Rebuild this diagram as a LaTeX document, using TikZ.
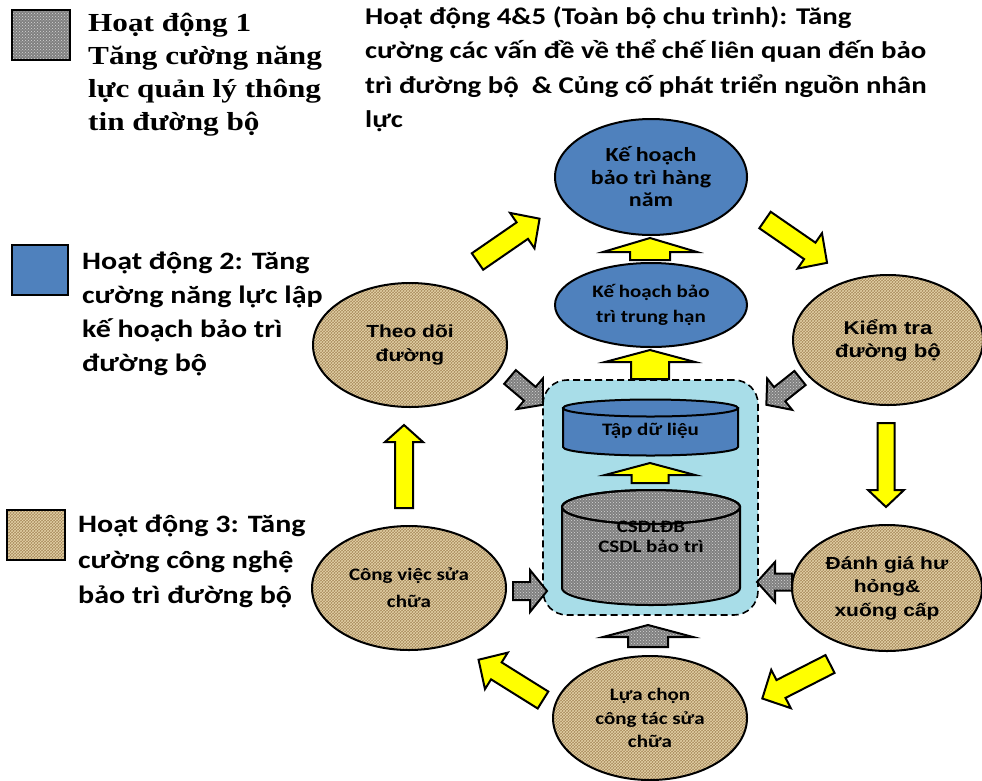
\documentclass[tikz,border=0pt]{standalone}
\usepackage{fontspec}
\newfontfamily\calibrif[FakeStretch=1.2]{Carlito}
\newfontfamily\arialf[FakeStretch=1.2]{Liberation Sans}
\newfontfamily\timesf[FakeStretch=1.2]{Liberation Serif}
\usetikzlibrary{shapes.geometric,patterns,positioning}

\definecolor{planblue}{RGB}{79,129,189}
\definecolor{burlapbase}{RGB}{168,138,92}
\definecolor{weave}{RGB}{228,210,168}
\definecolor{granitebase}{RGB}{128,128,128}
\definecolor{granitedot}{RGB}{215,215,215}
\definecolor{water}{RGB}{168,221,232}
\definecolor{arrowyellow}{RGB}{255,255,0}

\tikzset{
	legendtxt/.style={anchor=north west, inner sep=0pt, align=left,
		font=\calibrif\bfseries\fontsize{25}{34}\selectfont},
	burlap/.style={preaction={fill=burlapbase}, pattern=crosshatch, pattern color=weave},
	granite/.style={preaction={fill=granitebase}, pattern=crosshatch dots, pattern color=granitedot},
	stage/.style={ellipse, draw, line width=2pt, burlap, align=center, inner sep=0pt},
	plan/.style={ellipse, draw, line width=2pt, fill=planblue, align=center, inner sep=0pt},
	swatch/.style={draw, line width=2.5pt, inner sep=0pt},
	yarrow/.style={draw, line width=2pt, fill=arrowyellow, line join=miter},
	garrow/.style={draw, line width=2pt, granite, line join=miter}
}
% block arrow: style, tail x, tail y, angle, length, shaft half, head length, head half
\newcommand\blockarrow[8]{%
	\draw[#1, shift={(#2,#3)}, rotate=#4] (0,-#6) -- (#5-#7,-#6) -- (#5-#7,-#8)
		-- (#5,0) -- (#5-#7,#8) -- (#5-#7,#6) -- (0,#6) -- cycle;}

\begin{document}
\begin{tikzpicture}[x=1pt, y=-1pt]
\useasboundingbox (0,0) rectangle (982,780);

% legend
\node[swatch, granite, minimum width=58pt, minimum height=50pt] (leg1) at (41,35) {};
\node[swatch, fill=planblue, minimum width=56pt, minimum height=50pt] (leg2) at (40,270) {};
\node[swatch, burlap, minimum width=58pt, minimum height=50pt] (leg3) at (36,535) {};

\node[legendtxt, font=\timesf\bfseries\fontsize{26}{33}\selectfont] (leg1txt) at (88,13)
	{Hoạt động 1\\Tăng cường năng\\lực quản lý thông\\tin đường bộ};
\node[legendtxt] (leg2txt) at (82,252) {Hoạt động 2: Tăng\\cường năng lực lập\\kế hoạch bảo trì\\đường bộ};
\node[legendtxt, font=\calibrif\bfseries\fontsize{25}{35.5}\selectfont] (leg3txt) at (78,515)
	{Hoạt động 3: Tăng\\cường công nghệ\\bảo trì đường bộ};
\node[legendtxt, font=\calibrif\bfseries\fontsize{24}{34.5}\selectfont] (cycletxt) at (365,6)
	{Hoạt động 4\&5 (Toàn bộ chu trình): Tăng\\cường các vấn đề về thể chế liên quan đến bảo\\trì đường bộ\ \ \& Củng cố phát triển nguồn nhân\\lực};

% database box
\node[draw, dash pattern=on 7pt off 4pt, line width=1.6pt, fill=water, rounded corners=24pt,
	minimum width=215pt, minimum height=235pt] (csdlbox) at (650.5,497.5) {};

\draw[line width=2pt, fill=planblue] (563,408) -- (563,447)
	arc[start angle=180, end angle=0, x radius=87.5, y radius=8.5] -- (738,408) -- cycle;
\draw[line width=2pt, fill=planblue] (650.5,408) ellipse[x radius=87.5, y radius=8.5];
\node[font=\calibrif\bfseries\fontsize{17.5}{20}\selectfont] (tapdl) at (650.5,431) {Tập dữ liệu};

\draw[line width=2pt, granite] (562,507) -- (562,588)
	arc[start angle=180, end angle=0, x radius=89, y radius=17] -- (740,507) -- cycle;
\draw[line width=2pt, granite] (651,507) ellipse[x radius=89, y radius=17];
\node[align=center, font=\calibrif\bfseries\fontsize{17.5}{20}\selectfont] (csdl) at (651,537) {CSDLĐB\\CSDL bảo trì};
\draw[line width=2pt] (651,507) ellipse[x radius=89, y radius=17];

% planning
\node[plan, minimum width=192pt, minimum height=116pt, font=\calibrif\bfseries\fontsize{20}{22.5}\selectfont]
	(khnam) at (651,177) {Kế hoạch\\bảo trì hàng\\năm};
\node[plan, minimum width=192pt, minimum height=84pt, font=\calibrif\bfseries\fontsize{17.5}{25}\selectfont]
	(khtrung) at (651,305) {Kế hoạch bảo\\trì trung hạn};

% maintenance cycle
\node[stage, minimum width=194pt, minimum height=124pt, font=\arialf\bfseries\fontsize{17.5}{24}\selectfont]
	(theodoi) at (410,345) {Theo dõi\\đường};
\node[stage, minimum width=190pt, minimum height=130pt, font=\arialf\bfseries\fontsize{18.5}{23}\selectfont]
	(kiemtra) at (888,340) {Kiểm tra\\đường bộ};
\node[stage, minimum width=190pt, minimum height=126pt, font=\arialf\bfseries\fontsize{17.5}{23.5}\selectfont]
	(danhgia) at (887,588) {Đánh giá hư\\hỏng\&\\xuống cấp};
\node[stage, minimum width=194pt, minimum height=124pt, font=\calibrif\bfseries\fontsize{17.5}{27}\selectfont]
	(congviec) at (409,588) {Công việc sửa\\chữa};
\node[stage, minimum width=194pt, minimum height=124pt, font=\calibrif\bfseries\fontsize{17.5}{23.5}\selectfont]
	(luachon) at (650,718) {Lựa chọn\\công tác sửa\\chữa};

% yellow arrows
\blockarrow{yarrow}{477.5}{261.5}{34.6}{75.4}{10}{21}{21.5}
\blockarrow{yarrow}{765}{220}{-34.6}{75.4}{10}{21}{21.5}
\blockarrow{yarrow}{886}{423}{-90}{84}{8.5}{17}{18}
\blockarrow{yarrow}{830}{664}{207}{76}{10}{21}{21.5}
\blockarrow{yarrow}{543}{700}{148}{76}{10}{21}{21.5}
\blockarrow{yarrow}{404}{508}{90}{83}{9}{17}{19}
\blockarrow{yarrow}{650}{260}{90}{22}{20}{14}{47}
\blockarrow{yarrow}{650}{379}{90}{29}{19}{12}{45}
\blockarrow{yarrow}{650}{483}{90}{20}{18.5}{12}{45}

% grey arrows
\blockarrow{garrow}{648}{647}{90}{22}{20}{12}{45}
\blockarrow{garrow}{513}{591}{0}{34}{9}{17}{21}
\blockarrow{garrow}{792}{582}{180}{35}{8.5}{18}{20}
\blockarrow{garrow}{510}{377}{-40.3}{43}{9}{17}{20}
\blockarrow{garrow}{800}{378}{218.5}{43}{9}{17}{20}
\end{tikzpicture}
\end{document}
